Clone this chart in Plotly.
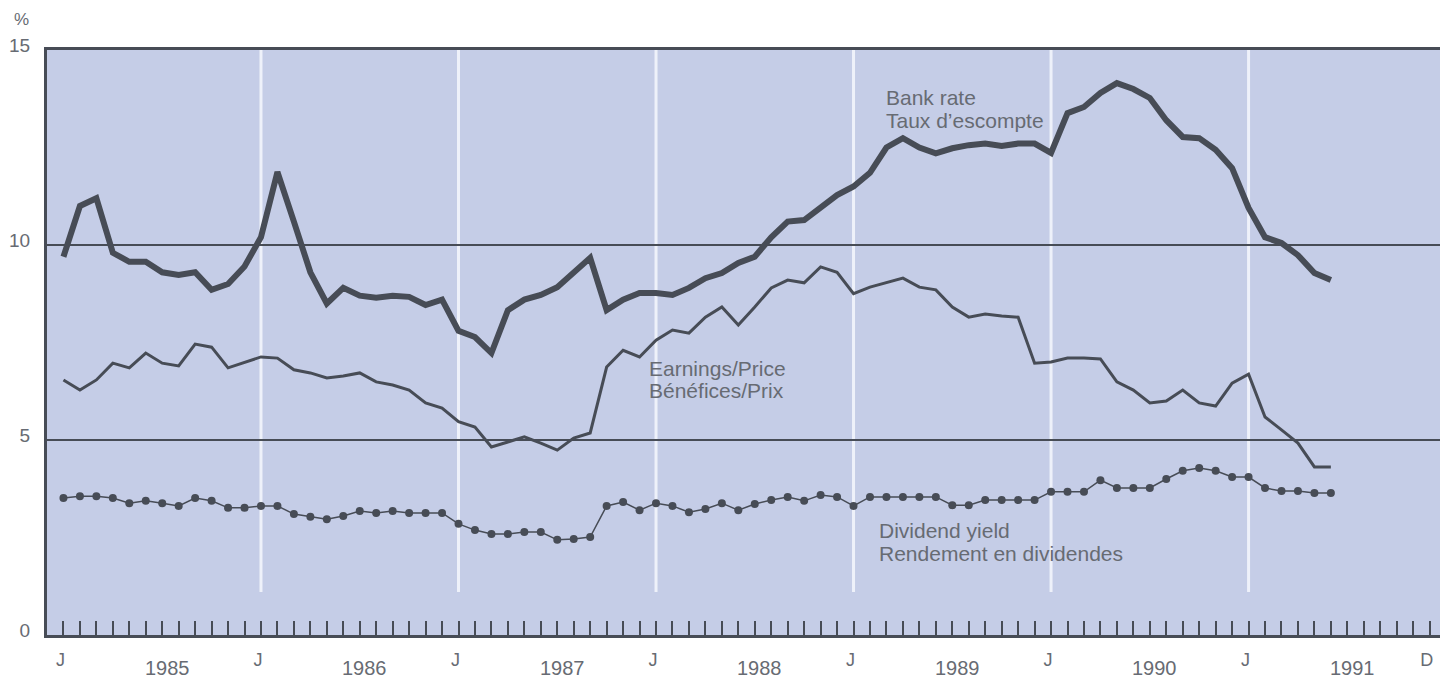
import plotly.graph_objects as go

# ---------------- data (monthly, Jan 1985 = index 0) ----------------
years = [1985, 1986, 1987, 1988, 1989, 1990, 1991]
months = list(range(78))  # Jan 1985 .. Jun 1991

bank_rate = [9.70, 11.0, 11.2, 9.8, 9.57, 9.57, 9.3, 9.23, 9.3, 8.85, 9.0, 9.45,
             10.2, 11.87, 10.6, 9.3, 8.5, 8.9, 8.7, 8.65, 8.7, 8.67, 8.46, 8.6,
             7.8, 7.64, 7.23, 8.33, 8.6, 8.72, 8.92, 9.28, 9.67, 8.33, 8.6, 8.77,
             8.77, 8.72, 8.9, 9.15, 9.28, 9.54, 9.7, 10.2, 10.6, 10.64, 10.95, 11.28,
             11.5, 11.85, 12.5, 12.74, 12.5, 12.35, 12.48, 12.56, 12.6, 12.54, 12.6, 12.6,
             12.36, 13.38, 13.54, 13.9, 14.15, 14.0, 13.77, 13.2, 12.77, 12.74, 12.44, 11.97,
             10.95, 10.2, 10.05, 9.74, 9.28, 9.1]

earnings_price = [6.54, 6.28, 6.54, 6.97, 6.85, 7.23, 6.97, 6.9, 7.46, 7.38, 6.85, 7.0,
                  7.13, 7.1, 6.8, 6.72, 6.59, 6.64, 6.72, 6.49, 6.41, 6.28, 5.95, 5.82,
                  5.47, 5.33, 4.82, 4.95, 5.08, 4.92, 4.74, 5.05, 5.18, 6.87, 7.3, 7.13,
                  7.56, 7.82, 7.74, 8.15, 8.41, 7.95, 8.41, 8.9, 9.1, 9.03, 9.44, 9.3,
                  8.75, 8.92, 9.03, 9.15, 8.92, 8.85, 8.41, 8.15, 8.23, 8.18, 8.15, 6.97,
                  7.0, 7.1, 7.1, 7.08, 6.49, 6.28, 5.95, 6.0, 6.28, 5.95, 5.87, 6.46,
                  6.69, 5.59, 5.26, 4.92, 4.31, 4.31]

dividend_yield = [3.51, 3.56, 3.56, 3.51, 3.38, 3.44, 3.38, 3.31, 3.51, 3.44, 3.26, 3.26,
                  3.31, 3.31, 3.10, 3.03, 2.97, 3.05, 3.18, 3.13, 3.18, 3.13, 3.13, 3.13,
                  2.85, 2.69, 2.59, 2.59, 2.64, 2.64, 2.44, 2.46, 2.51, 3.31, 3.41, 3.20,
                  3.38, 3.31, 3.15, 3.23, 3.38, 3.20, 3.36, 3.46, 3.54, 3.44, 3.59, 3.54,
                  3.31, 3.54, 3.54, 3.54, 3.54, 3.54, 3.33, 3.33, 3.46, 3.46, 3.46, 3.46,
                  3.67, 3.67, 3.67, 3.97, 3.77, 3.77, 3.77, 4.00, 4.21, 4.28, 4.21, 4.05,
                  4.05, 3.77, 3.69, 3.69, 3.64, 3.64]

january_idx = [12 * i for i in range(len(years))]
x_tickvals = january_idx + [83]
x_ticktext = ["J"] * len(years) + ["D"]
y_tickvals = [0, 5, 10, 15]
y_ticktext = ["0", "5", "10", "15"]

# ---------------- styling ----------------
W, H = 1440, 681
PL, PR, PT, PB = 47, 1440, 50, 635
LINE = "#474c56"
BG = "#c5cde7"
TXT = "#676b73"
FONT = "Liberation Sans, Arial, Helvetica, sans-serif"


def px(x):
    return (x - PL) / (PR - PL)


def py(y):
    return (PB - y) / (PB - PT)


fig = go.Figure()

fig.add_trace(go.Scatter(x=months, y=dividend_yield, mode="lines+markers",
                         line=dict(color=LINE, width=1.5),
                         marker=dict(color=LINE, size=8),
                         name="Dividend yield", hoverinfo="skip"))
fig.add_trace(go.Scatter(x=months, y=earnings_price, mode="lines",
                         line=dict(color=LINE, width=3),
                         name="Earnings/Price", hoverinfo="skip"))
fig.add_trace(go.Scatter(x=months, y=bank_rate, mode="lines",
                         line=dict(color=LINE, width=6),
                         name="Bank rate", hoverinfo="skip"))

# white January separators
for j in january_idx[1:]:
    fig.add_shape(type="line", xref="x", yref="y", x0=j, x1=j, y0=1.1, y1=15,
                  line=dict(color="#eef1fa", width=3), layer="below")

annotations = []


def label(text, x, y, size=21, xanchor="left", xref="paper"):
    annotations.append(dict(text=text, x=x, y=y, xref=xref, yref="paper",
                            xanchor=xanchor, yanchor="middle", showarrow=False,
                            font=dict(family=FONT, size=size, color=TXT)))


label("%", px(21), py(20), size=17, xanchor="center")
label("Bank rate", px(884), py(97))
label("Taux d\u2019escompte", px(884), py(120))
label("Earnings/Price", px(647), py(368))
label("B\u00e9n\u00e9fices/Prix", px(647), py(391))
label("Dividend yield", px(877), py(530))
label("Rendement en dividendes", px(877), py(553))
for i, yr in enumerate(years):
    label(str(yr), january_idx[i] + 6.3, py(668), size=20, xanchor="center", xref="x")

fig.update_layout(
    width=W, height=H,
    margin=dict(l=PL, r=W - PR, t=PT, b=H - PB, autoexpand=False),
    paper_bgcolor="white",
    plot_bgcolor=BG,
    showlegend=False,
    font=dict(family=FONT, color=TXT),
    annotations=annotations,
    xaxis=dict(range=[-1.0, 83.63], showgrid=False, zeroline=False,
               tickvals=x_tickvals, ticktext=x_ticktext,
               ticks="inside", ticklen=14, tickwidth=1.5, tickcolor=LINE,
               minor=dict(dtick=1, tick0=0, ticks="inside", ticklen=14,
                          tickwidth=1.5, tickcolor=LINE, showgrid=False),
               showline=True, linecolor=LINE, linewidth=3, mirror=True,
               tickfont=dict(size=18, color=TXT, family=FONT),
               ticklabelstandoff=6, ticklabelshift=-3, fixedrange=True),
    yaxis=dict(range=[0, 15], tickvals=y_tickvals, ticktext=y_ticktext,
               showgrid=True, gridcolor=LINE, gridwidth=1.5, zeroline=False,
               showline=True, linecolor=LINE, linewidth=3,
               ticks="", tickfont=dict(size=19, color=TXT, family=FONT),
               ticklabelstandoff=10, ticklabelshift=-5, fixedrange=True),
)

fig.write_html("out.html", config={"displayModeBar": False},
               post_script="document.body.style.margin='0px';"
                           "document.body.style.overflow='hidden';")
